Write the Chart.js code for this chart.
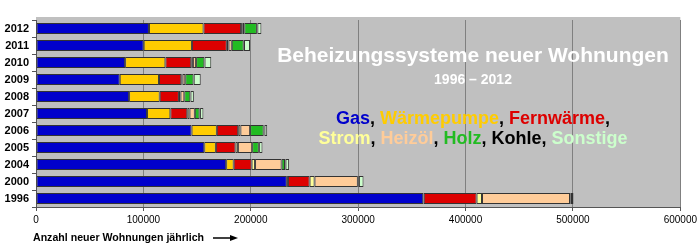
<!DOCTYPE html>
<html>
<head>
<meta charset="utf-8">
<script src="https://cdn.jsdelivr.net/npm/chart.js@4"></script>
<style>
  html, body { margin: 0; padding: 0; background: #fff; }
  canvas { display: block; }
</style>
</head>
<body>
<canvas id="heatChart" width="700" height="251"></canvas>
<script>
const years = ['2012', '2011', '2010', '2009', '2008', '2007', '2006', '2005', '2004', '2000', '1996'];
const xTicks = [0, 100000, 200000, 300000, 400000, 500000, 600000];

// apartments per year, by heating system
const gas      = [105200, 100300, 83000, 78000, 86700, 103400, 144900, 156700, 177100, 233600, 360600];
const waerme   = [50800, 44900, 37500, 36500, 28500, 21700, 23500, 10800, 7000, 1000, 500];
const fernw    = [35000, 32500, 24100, 20800, 17900, 15800, 19900, 18300, 16700, 20200, 49200];
const strom    = [1500, 1600, 1500, 1200, 1500, 2100, 2100, 2200, 3200, 4600, 5000];
const heizoel  = [1500, 3000, 3000, 2500, 3500, 4900, 9000, 13300, 24700, 40300, 82000];
const holz     = [11700, 11100, 7700, 7700, 5600, 4400, 12600, 6200, 3200, 500, 300];
const kohle    = [500, 300, 200, 200, 200, 500, 800, 300, 500, 500, 2800];
const sonstige = [3700, 5600, 6200, 6500, 3100, 3100, 2500, 3100, 3300, 4300, 300];

const series = [
  ['Gas', gas, '#0000cc'],
  ['Wärmepumpe', waerme, '#ffcc00'],
  ['Fernwärme', fernw, '#dd0000'],
  ['Strom', strom, '#ffff99'],
  ['Heizöl', heizoel, '#ffcc99'],
  ['Holz', holz, '#22bb22'],
  ['Kohle', kohle, '#000000'],
  ['Sonstige', sonstige, '#ccffcc'],
];

const overlay = {
  id: 'overlay',
  beforeDraw(chart) {
    const {ctx, chartArea: a} = chart;
    ctx.save();
    ctx.fillStyle = '#c0c0c0';
    ctx.fillRect(a.left, a.top - 3, a.right - a.left, a.bottom - a.top + 3);
    ctx.restore();
  },
  afterDraw(chart) {
    const ctx = chart.ctx;
    const cx = 473;
    ctx.save();
    ctx.textAlign = 'center';
    ctx.textBaseline = 'middle';
    ctx.fillStyle = '#ffffff';
    ctx.font = 'bold 21px "Liberation Sans", Arial, sans-serif';
    ctx.fillText('Beheizungssysteme neuer Wohnungen', cx, 56);
    ctx.font = 'bold 14px "Liberation Sans", Arial, sans-serif';
    ctx.fillText('1996 – 2012', cx, 80);

    // coloured legend lines
    ctx.font = 'bold 18px "Liberation Sans", Arial, sans-serif';
    const lines = [
      [['Gas', '#0000cc'], [', ', '#000'], ['Wärmepumpe', '#ffcc00'], [', ', '#000'], ['Fernwärme', '#dd0000'], [',', '#000']],
      [['Strom', '#ffff99'], [', ', '#000'], ['Heizöl', '#ffcc99'], [', ', '#000'], ['Holz', '#22bb22'], [', ', '#000'],
       ['Kohle', '#000'], [', ', '#000'], ['Sonstige', '#ccffcc']],
    ];
    const ys = [119, 139];
    ctx.textAlign = 'left';
    lines.forEach((parts, i) => {
      const w = parts.reduce((s, p) => s + ctx.measureText(p[0]).width, 0);
      let x = cx - w / 2;
      parts.forEach(p => {
        ctx.fillStyle = p[1];
        ctx.fillText(p[0], x, ys[i]);
        x += ctx.measureText(p[0]).width;
      });
    });

    // axis caption with arrow
    ctx.fillStyle = '#000';
    ctx.font = 'bold 10.6px "Liberation Sans", Arial, sans-serif';
    ctx.fillText('Anzahl neuer Wohnungen jährlich', 33, 238);
    ctx.strokeStyle = '#000';
    ctx.lineWidth = 1.5;
    ctx.beginPath();
    ctx.moveTo(213, 238);
    ctx.lineTo(232, 238);
    ctx.stroke();
    ctx.beginPath();
    ctx.moveTo(238, 238);
    ctx.lineTo(230, 235);
    ctx.lineTo(230, 241);
    ctx.closePath();
    ctx.fill();
    ctx.restore();
  }
};

new Chart(document.getElementById('heatChart'), {
  type: 'bar',
  data: {
    labels: years,
    datasets: series.map(([label, data, color]) => ({
      label,
      data,
      backgroundColor: color,
      borderColor: '#333333',
      borderWidth: 1,
      borderSkipped: false,
      categoryPercentage: 1,
      barPercentage: 0.66,
    }))
  },
  options: {
    indexAxis: 'y',
    responsive: false,
    animation: false,
    layout: { padding: { top: 20, right: 18, left: 0, bottom: 0 } },
    plugins: { legend: { display: false }, tooltip: { enabled: false } },
    scales: {
      x: {
        stacked: true,
        min: 0,
        max: 600000,
        afterBuildTicks: axis => { axis.ticks = xTicks.map(v => ({value: v})); },
        afterFit: axis => { axis.height = 44; },
        border: { color: '#555555', width: 1 },
        grid: { color: '#808080', lineWidth: 1, tickLength: 4, tickColor: '#555555' },
        ticks: {
          color: '#000',
          padding: 3,
          maxRotation: 0,
          font: { family: '"Liberation Sans", Arial, sans-serif', size: 10 },
          callback: v => String(v)
        }
      },
      y: {
        stacked: true,
        afterFit: axis => { axis.width = 36; },
        border: { color: '#555555', width: 1 },
        grid: { display: true, offset: true, drawOnChartArea: false, tickLength: 4, tickColor: '#555555' },
        ticks: {
          color: '#000',
          padding: 3,
          font: { family: '"Liberation Sans", Arial, sans-serif', size: 11, weight: 'bold' }
        }
      }
    }
  },
  plugins: [overlay]
});
</script>
</body>
</html>
